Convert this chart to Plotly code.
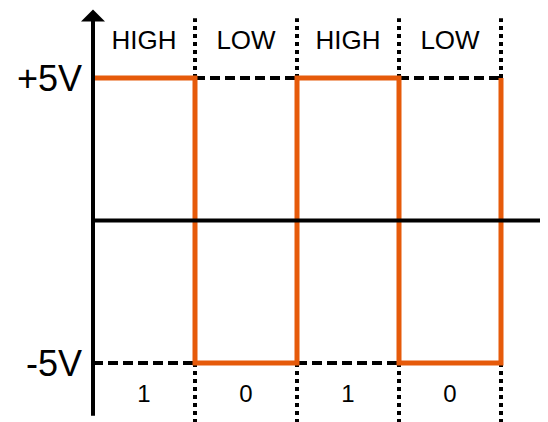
import plotly.graph_objects as go

# ---- data ----
bits = [1, 0, 1, 0]
level_names = ["HIGH", "LOW", "HIGH", "LOW"]
high_v = 5
low_v = -5
final_level = 5          # level the wave rises to at the last edge
y_tick_vals = [5, -5]
y_tick_text = ["+5V", "-5V"]

ORANGE = "#E65A0A"
FONT = "Liberation Sans, Arial, sans-serif"

n = len(bits)
edges = list(range(n + 1))
levels = [high_v if b else low_v for b in bits] + [final_level]
centers = [i + 0.5 for i in range(n)]

# page body has an 8px margin: the figure is offset by it
W, H = 540, 414
AX_X = 85            # pixel x of the vertical axis inside the figure
ZERO_Y = 212.5       # pixel y of the 0 V level inside the figure
PX_PER_BIT = 102
PX_PER_VOLT = 28.5

fig = go.Figure()

# dashed reference lines at the opposite level in each bit slot
for i, b in enumerate(bits):
    opp = low_v if b else high_v
    fig.add_trace(go.Scatter(x=[i, i + 1], y=[opp, opp], mode="lines",
                             line=dict(color="black", width=4, dash="10px,5px"),
                             hoverinfo="skip", showlegend=False))

# dotted vertical lines at transitions
top_y, bot_y = 7.1, -7.3
for e in edges[1:]:
    fig.add_trace(go.Scatter(x=[e, e], y=[high_v, top_y], mode="lines",
                             line=dict(color="black", width=4, dash="4px,4px"),
                             hoverinfo="skip", showlegend=False))
    fig.add_trace(go.Scatter(x=[e, e], y=[low_v, bot_y], mode="lines",
                             line=dict(color="black", width=4, dash="4px,4px"),
                             hoverinfo="skip", showlegend=False))

# square wave
fig.add_trace(go.Scatter(x=edges, y=levels, mode="lines", line_shape="hv",
                         line=dict(color=ORANGE, width=5),
                         hoverinfo="skip", showlegend=False))

# level names and bit values
fig.add_trace(go.Scatter(x=centers, y=[6.25] * n, mode="text", text=level_names,
                         textfont=dict(family=FONT, size=26, color="black"),
                         hoverinfo="skip", showlegend=False))
fig.add_trace(go.Scatter(x=centers, y=[-6.15] * n, mode="text",
                         text=[str(b) for b in bits],
                         textfont=dict(family=FONT, size=24, color="black"),
                         hoverinfo="skip", showlegend=False))

# axes with arrows
fig.add_annotation(x=0, y=7.4, ax=0, ay=-6.9, xref="x", yref="y",
                   axref="x", ayref="y", text="", showarrow=True,
                   arrowhead=1, arrowsize=1, arrowwidth=4, arrowcolor="black")
fig.add_annotation(x=4.53, y=0, ax=0, ay=0, xref="x", yref="y",
                   axref="x", ayref="y", text="", showarrow=True,
                   arrowhead=1, arrowsize=1, arrowwidth=4, arrowcolor="black")

fig.update_layout(
    width=W, height=H,
    margin=dict(l=0, r=0, t=0, b=0, pad=0, autoexpand=False),
    paper_bgcolor="white", plot_bgcolor="white",
    xaxis=dict(domain=[AX_X / W, 1], range=[0, (W - AX_X) / PX_PER_BIT],
               automargin=False,
               showgrid=False, zeroline=False, showline=False,
               showticklabels=False, ticks=""),
    yaxis=dict(range=[-(H - ZERO_Y) / PX_PER_VOLT, ZERO_Y / PX_PER_VOLT],
               automargin=False,
               showgrid=False, zeroline=False, showline=False,
               tickvals=y_tick_vals, ticktext=y_tick_text, ticks="",
               ticklabelstandoff=10,
               tickfont=dict(family=FONT, size=36, color="black")),
)

fig.write_html("out.html")
